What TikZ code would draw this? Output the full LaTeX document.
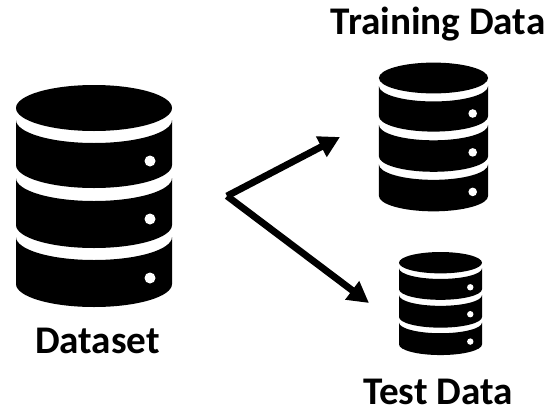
\documentclass[tikz,border=0pt]{standalone}
\usepackage{fontspec}
\setmainfont{Carlito}
\usetikzlibrary{arrows.meta}
\tikzset{
	stacklabel/.style={font=\fontsize{22.3pt}{26pt}\bfseries\selectfont, text=black, inner sep=0pt, anchor=base},
	flow/.style={line width=3.9pt, -{Triangle[length=12pt, width=12.5pt]}}
}
\newcommand{\DbStack}[5]{
	\begin{scope}[shift={(#1,#2)}, xscale=#3, yscale=#4]
		\fill[black] (0,0) circle[x radius=78, y radius=23];
		\foreach \TierTop/\TierBottom/\DotY in {12/57/53, 70/117/111, 129/176/170}
		{
			\fill[black] (-78,-\TierTop)
				arc[start angle=180, end angle=360, x radius=78, y radius=23]
				-- (78,-\TierBottom)
				arc[start angle=0, end angle=-180, x radius=78, y radius=23]
				-- cycle;
			\fill[white] (56,-\DotY) circle[x radius=#5/#3, y radius=#5/#4];
		}
	\end{scope}
}
\begin{document}
\begin{tikzpicture}[x=0.02cm, y=0.02cm]
			\useasboundingbox (0,0) rectangle (558,407);
			\fill[white] (0,0) rectangle (558,407);
			\DbStack{94}{299}{1}{1}{5.5}
			\DbStack{433.5}{329}{0.7}{0.67}{4.3}
			\DbStack{440.5}{144.3}{0.532}{0.464}{3.2}
			\node[stacklabel] (datasetlabel) at (97.5,54) {Dataset};
			\node[stacklabel] (trainlabel) at (438,373) {Training Data};
			\node[stacklabel] (testlabel) at (438,2.5) {Test Data};
			\coordinate (split) at (227,211);
			\coordinate (traintip) at (340,270);
			\coordinate (testtip) at (369,104);
			\draw[flow] (split) -- (traintip);
			\draw[flow] (split) -- (testtip);
		\end{tikzpicture}
\end{document}
